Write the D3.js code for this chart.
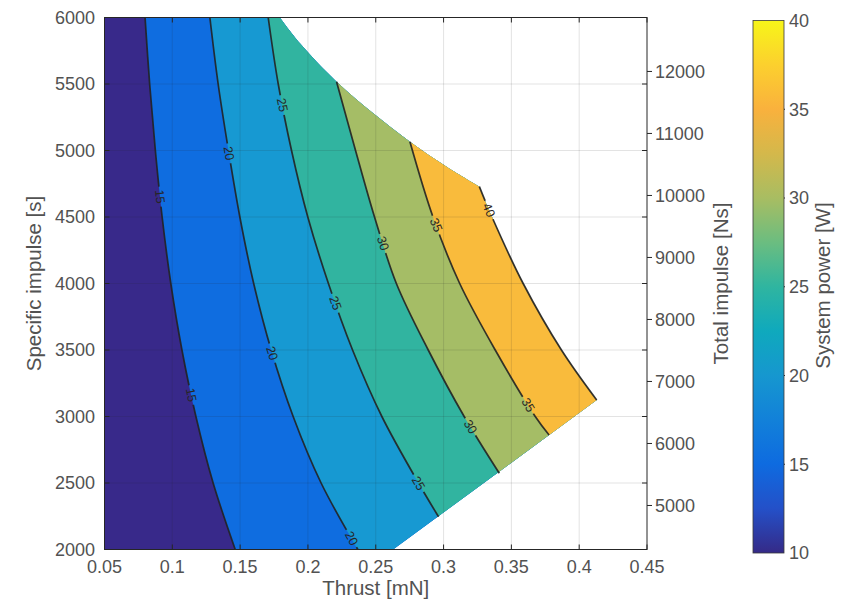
<!DOCTYPE html>
<html>
<head>
<meta charset="utf-8">
<script src="https://cdn.jsdelivr.net/npm/d3@7"></script>
<style>
    body { margin: 0; background: #fff; }
    text { font-family: "Liberation Sans", Arial, Helvetica, sans-serif; fill: #525252; }
</style>
</head>
<body>
<svg id="chart" width="849" height="603"></svg>
<script>
// System power contour levels [W] and the fill of the band below each one
const levels = [15, 20, 25, 30, 35, 40];
const bandColors = ['#38298a', '#0f6de0', '#1799d2', '#31b4a0', '#a5bd66', '#f9bb3c'];

// Contour lines: [thrust mN, specific impulse s], top to bottom
const contour15 = [[0.0799, 6000], [0.0833, 5500], [0.0875, 5000], [0.0925, 4500], [0.0989, 4000],
    [0.1071, 3500], [0.1174, 3000], [0.1301, 2500], [0.1464, 2000]];
const contour20 = [[0.1277, 6000], [0.1338, 5500], [0.1414, 5000], [0.1498, 4500], [0.1600, 4000],
    [0.1729, 3500], [0.1891, 3000], [0.2097, 2500], [0.2368, 2000]];
const contour25 = [[0.1707, 6000], [0.1781, 5500], [0.1879, 5000], [0.1999, 4500], [0.2151, 4000],
    [0.2329, 3500], [0.2545, 3000], [0.2815, 2500], [0.2963, 2246]];
const contour30 = [[0.2211, 5517], [0.2351, 5000], [0.2491, 4500], [0.2652, 4000], [0.2887, 3500],
    [0.3152, 3000], [0.3411, 2573]];
const contour35 = [[0.2752, 5066], [0.2922, 4500], [0.3119, 4000], [0.3381, 3500], [0.3676, 3000],
    [0.3778, 2861]];
const contour40 = [[0.3264, 4728], [0.3357, 4500], [0.3587, 4000], [0.3869, 3500], [0.4129, 3124]];
const contours = [contour15, contour20, contour25, contour30, contour35, contour40];

// Where the inline labels sit on each contour (specific impulse)
const labelIsp = [[4653, 3162], [4979, 3476, 2084], [5342, 3853, 2498], [4302, 2923], [4440, 3086], [4553]];

// Edges of the feasible region (white outside)
const upperEdge = [[0.1793, 6000], [0.1941, 5806], [0.2211, 5517], [0.2481, 5280], [0.2752, 5066],
    [0.3022, 4878], [0.3264, 4728]];
const lowerEdge = [[0.4129, 3124], [0.2628, 2000]];

// Axes
const thrustTicks = [0.05, 0.1, 0.15, 0.2, 0.25, 0.3, 0.35, 0.4, 0.45];
const ispTicks = [2000, 2500, 3000, 3500, 4000, 4500, 5000, 5500, 6000];
const impulseTicks = [5000, 6000, 7000, 8000, 9000, 10000, 11000, 12000];
const impulseRange = [4290, 12870];
const powerTicks = [10, 15, 20, 25, 30, 35, 40];
// colorbar, sampled every 2.5 W from 10 to 40
const barColors = ['#352a87', '#2450c8', '#0e6be0', '#1281d9', '#1697cf', '#0fa9bd', '#2fb5a0',
    '#6bbd80', '#a8bd62', '#d4b84b', '#f9b13d', '#fcd02e', '#f7f519'];

const plot = { left: 104.5, right: 647, top: 17.5, bottom: 549.5 };
const bar = { left: 753, right: 784, top: 20.5, bottom: 553 };

const svg = d3.select('#chart');
const defs = svg.append('defs');

const x = d3.scaleLinear().domain([0.05, 0.45]).range([plot.left, plot.right]);
const y = d3.scaleLinear().domain([2000, 6000]).range([plot.bottom, plot.top]);
const yImpulse = d3.scaleLinear().domain(impulseRange).range([plot.bottom, plot.top]);
const yPower = d3.scaleLinear().domain([10, 40]).range([bar.bottom, bar.top]);

const smooth = d3.line().x(d => x(d[0])).y(d => y(d[1])).curve(d3.curveCatmullRom.alpha(0.5));
const straight = d3.line().x(d => x(d[0])).y(d => y(d[1]));
const join = p => p.replace(/^M/, 'L');

// Clip to the feasible region
const regionPath = `M${x(0.05)},${y(6000)}` + join(smooth(upperEdge)) + join(smooth(contour40)) +
    join(straight(lowerEdge)) + `L${x(0.05)},${y(2000)}Z`;
defs.append('clipPath').attr('id', 'region').append('path').attr('d', regionPath);
defs.append('clipPath').attr('id', 'box').append('rect')
    .attr('x', plot.left).attr('y', plot.top)
    .attr('width', plot.right - plot.left).attr('height', plot.bottom - plot.top);

// Filled bands
const fills = svg.append('g').attr('clip-path', 'url(#region)');
fills.append('path').attr('d', regionPath).attr('fill', bandColors[0]);
contours.slice(0, 5).forEach((c, i) => {
    const first = c[0], last = c[c.length - 1];
    const d = smooth(c) + `L${x(last[0] + 0.02)},${y(1000)}L${x(1)},${y(1000)}L${x(1)},${y(7000)}` +
        `L${x(first[0])},${y(7000)}Z`;
    fills.append('path').attr('d', d).attr('fill', bandColors[i + 1]);
});

// Grid
const grid = svg.append('g').attr('stroke', '#262626').attr('stroke-opacity', 0.13).attr('stroke-width', 1);
thrustTicks.slice(1, -1).forEach(t => {
    grid.append('line').attr('x1', x(t)).attr('x2', x(t)).attr('y1', plot.top).attr('y2', plot.bottom);
});
ispTicks.slice(1, -1).forEach(v => {
    grid.append('line').attr('x1', plot.left).attr('x2', plot.right).attr('y1', y(v)).attr('y2', y(v));
});

// Contour labels: position and angle along each line
function pointAt(c, isp) {
    for (let k = 0; k < c.length - 1; k++) {
        const a = c[k], b = c[k + 1];
        if (isp <= a[1] && isp >= b[1]) {
            const f = (a[1] - isp) / (a[1] - b[1]);
            const t = a[0] + f * (b[0] - a[0]);
            const ang = Math.atan2(y(b[1]) - y(a[1]), x(b[0]) - x(a[0])) * 180 / Math.PI;
            return { px: x(t), py: y(isp), ang };
        }
    }
    return null;
}
const labels = [];
labelIsp.forEach((list, i) => list.forEach(isp => {
    const p = pointAt(contours[i], isp);
    if (p) labels.push({ ...p, text: String(levels[i]) });
}));

const mask = defs.append('mask').attr('id', 'gaps').attr('maskUnits', 'userSpaceOnUse')
    .attr('x', 0).attr('y', 0).attr('width', 849).attr('height', 603);
mask.append('rect').attr('width', 849).attr('height', 603).attr('fill', '#fff');
labels.forEach(l => {
    mask.append('rect').attr('x', -10).attr('y', -6).attr('width', 20).attr('height', 12).attr('fill', '#000')
        .attr('transform', `translate(${l.px},${l.py}) rotate(${l.ang})`);
});

const lines = svg.append('g').attr('clip-path', 'url(#box)').append('g').attr('mask', 'url(#gaps)');
contours.forEach(c => {
    lines.append('path').attr('d', smooth(c)).attr('fill', 'none')
        .attr('stroke', '#222').attr('stroke-opacity', 0.9).attr('stroke-width', 1.7);
});
svg.append('g').selectAll('text').data(labels).join('text')
    .attr('transform', d => `translate(${d.px},${d.py}) rotate(${d.ang})`)
    .attr('text-anchor', 'middle').attr('dy', '0.35em')
    .style('font-size', '12.5px').style('fill', '#262626')
    .text(d => d.text);

// Box and ticks
const axisColor = '#262626';
svg.append('rect').attr('x', plot.left).attr('y', plot.top)
    .attr('width', plot.right - plot.left).attr('height', plot.bottom - plot.top)
    .attr('fill', 'none').attr('stroke', axisColor).attr('stroke-width', 1);
const ticks = svg.append('g').attr('stroke', axisColor).attr('stroke-width', 1);
thrustTicks.forEach(t => {
    ticks.append('line').attr('x1', x(t)).attr('x2', x(t)).attr('y1', plot.bottom).attr('y2', plot.bottom - 5);
    ticks.append('line').attr('x1', x(t)).attr('x2', x(t)).attr('y1', plot.top).attr('y2', plot.top + 5);
});
ispTicks.forEach(v => {
    ticks.append('line').attr('x1', plot.left).attr('x2', plot.left + 5).attr('y1', y(v)).attr('y2', y(v));
    ticks.append('line').attr('x1', plot.right).attr('x2', plot.right - 5).attr('y1', y(v)).attr('y2', y(v));
});
impulseTicks.forEach(v => {
    ticks.append('line').attr('x1', plot.right).attr('x2', plot.right + 5)
        .attr('y1', yImpulse(v)).attr('y2', yImpulse(v));
});

// Tick labels
const tickFont = '18px';
svg.append('g').selectAll('text').data(thrustTicks).join('text')
    .attr('x', d => x(d)).attr('y', 573).attr('text-anchor', 'middle')
    .style('font-size', tickFont).text(d => String(d));
svg.append('g').selectAll('text').data(ispTicks).join('text')
    .attr('x', 95).attr('y', d => y(d)).attr('dy', '0.35em').attr('text-anchor', 'end')
    .style('font-size', tickFont).text(d => d);
svg.append('g').selectAll('text').data(impulseTicks).join('text')
    .attr('x', 655).attr('y', d => yImpulse(d)).attr('dy', '0.35em')
    .style('font-size', tickFont).text(d => d);

// Axis titles
const titleFont = '20.5px';
svg.append('text').attr('x', (plot.left + plot.right) / 2).attr('y', 595).attr('text-anchor', 'middle')
    .style('font-size', titleFont).text('Thrust [mN]');
svg.append('text').attr('transform', `translate(41,${(plot.top + plot.bottom) / 2}) rotate(-90)`)
    .attr('text-anchor', 'middle').style('font-size', titleFont).text('Specific impulse [s]');
svg.append('text').attr('transform', `translate(728,${(plot.top + plot.bottom) / 2}) rotate(-90)`)
    .attr('text-anchor', 'middle').style('font-size', titleFont).text('Total impulse [Ns]');

// Colorbar
const grad = defs.append('linearGradient').attr('id', 'parula')
    .attr('x1', 0).attr('y1', 1).attr('x2', 0).attr('y2', 0);
barColors.forEach((c, i) => {
    grad.append('stop').attr('offset', i / (barColors.length - 1)).attr('stop-color', c);
});
svg.append('rect').attr('x', bar.left).attr('y', bar.top)
    .attr('width', bar.right - bar.left).attr('height', bar.bottom - bar.top)
    .attr('fill', 'url(#parula)').attr('stroke', '#3a3a3a').attr('stroke-width', 0.8);
powerTicks.slice(1, -1).forEach(v => {
    ticks.append('line').attr('x1', bar.right - 3).attr('x2', bar.right + 1)
        .attr('y1', yPower(v)).attr('y2', yPower(v));
});
svg.append('g').selectAll('text').data(powerTicks).join('text')
    .attr('x', 789).attr('y', d => yPower(d)).attr('dy', '0.35em')
    .style('font-size', tickFont).text(d => d);
svg.append('text').attr('transform', `translate(830,${(plot.top + plot.bottom) / 2 + 2}) rotate(-90)`)
    .attr('text-anchor', 'middle').style('font-size', titleFont).text('System power [W]');
</script>
</body>
</html>
